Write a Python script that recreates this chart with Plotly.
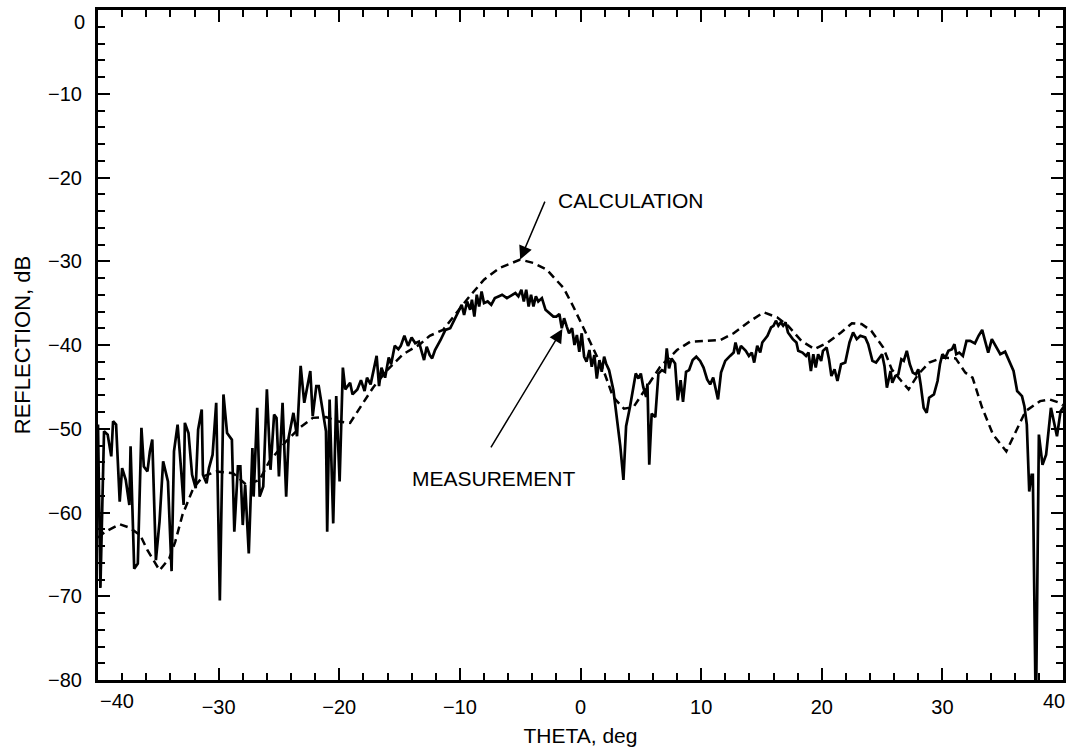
import plotly.graph_objects as go

# Calculation (dashed)
calc_theta = [-40.0, -39.4, -38.2, -37.4, -36.5, -35.9, -34.9, -34.1, -33.6, -33.0,
              -32.1, -31.3, -30.2, -28.8, -27.7, -26.6, -25.8, -24.4, -23.3, -22.2,
              -21.1, -20.2, -19.1, -18.3, -17.2, -16.1, -14.7, -13.3, -12.5, -11.4,
              -10.3, -9.2, -8.0, -6.7, -5.0, -3.9, -2.8, -1.4, -0.6, 0.2,
              1.1, 1.9, 2.7, 3.6, 4.4, 5.5, 6.6, 8.0, 9.1, 10.5,
              11.6, 12.7, 14.1, 15.2, 16.3, 17.2, 18.3, 19.4, 20.5, 21.6,
              22.5, 23.3, 24.1, 25.1, 25.8, 26.6, 27.2, 28.0, 28.9, 30.0,
              31.1, 31.9, 32.5, 33.3, 34.2, 35.3, 36.1, 36.9, 38.1, 38.9,
              39.7, 40.0]
calc_db = [-63.0, -62.3, -61.4, -61.8, -62.7, -64.5, -66.9, -65.5, -63.5, -60.3,
           -57.1, -55.7, -55.1, -55.3, -56.7, -56.1, -53.9, -51.5, -49.9, -48.7,
           -48.6, -49.1, -49.3, -47.5, -45.1, -43.1, -41.1, -39.9, -38.9, -38.2,
           -36.2, -34.2, -32.2, -30.8, -29.8, -30.2, -31.0, -33.2, -35.4, -37.8,
           -40.6, -43.0, -46.2, -47.6, -47.4, -45.0, -42.6, -40.6, -39.6, -39.5,
           -39.4, -38.6, -37.1, -36.1, -36.7, -37.7, -39.5, -40.5, -39.7, -38.5,
           -37.4, -37.5, -38.3, -40.3, -42.9, -44.3, -45.3, -43.5, -42.1, -41.5,
           -41.6, -43.3, -43.9, -47.5, -50.7, -52.7, -50.3, -47.9, -46.7, -46.5,
           -46.9, -47.2]

# Measurement (solid), left part
meas_theta_left = [-40.0, -39.8, -39.5, -39.2, -38.9, -38.75, -38.5, -38.2, -38.0, -37.7,
                   -37.4, -37.3, -37.0, -36.7, -36.4, -36.2, -35.9, -35.7, -35.5, -35.2,
                   -34.9, -34.6, -34.2, -33.9, -33.7, -33.4, -33.1, -32.9, -32.8, -32.5,
                   -32.2, -31.9, -31.7, -31.4, -31.3, -31.0, -30.8, -30.5, -30.2, -29.9,
                   -29.6, -29.3, -28.9, -28.7, -28.4, -28.2, -28.0, -27.8, -27.5, -27.2,
                   -27.1, -26.8, -26.6, -26.3, -26.0, -25.7, -25.4, -25.2, -25.0, -24.7,
                   -24.4, -24.2, -23.8, -23.5, -23.2, -22.9, -22.4, -22.2, -21.9, -21.7,
                   -21.1, -21.0, -20.8, -20.5, -20.25, -19.97, -19.7, -19.5, -19.1, -18.9,
                   -18.5, -18.2, -17.9, -17.7, -17.4, -16.9, -16.7, -16.5, -16.2, -15.9,
                   -15.7, -15.4, -15.1, -14.9, -14.6, -14.3, -14.0]
meas_db_left = [-49.5, -69.0, -50.3, -50.7, -53.3, -49.1, -49.5, -58.7, -54.7, -56.1,
                -59.1, -52.1, -66.7, -66.1, -49.9, -54.5, -55.1, -52.7, -51.3, -65.7,
                -61.1, -53.9, -56.3, -67.0, -52.7, -49.5, -55.1, -59.1, -49.3, -50.5,
                -55.5, -57.1, -50.1, -47.7, -55.5, -56.5, -54.7, -53.1, -46.9, -70.5,
                -45.9, -50.5, -51.3, -62.3, -54.5, -54.5, -61.5, -56.7, -64.9, -52.3,
                -58.1, -47.5, -58.1, -56.9, -45.3, -54.9, -48.3, -48.7, -55.7, -46.9,
                -58.1, -51.1, -48.1, -50.9, -42.5, -46.9, -43.1, -48.5, -44.9, -44.9,
                -50.3, -62.3, -46.5, -61.3, -46.1, -56.3, -42.7, -45.3, -44.5, -45.9,
                -45.3, -44.2, -45.5, -43.9, -44.7, -41.3, -44.9, -42.7, -43.9, -41.5,
                -42.3, -40.1, -40.5, -40.1, -38.9, -40.1, -39.1]

# Measurement, middle part
meas_theta_mid = [-13.7, -13.4, -13.2, -12.97, -12.75, -12.5, -12.3, -12.06, -11.6, -11.2,
                  -10.8, -10.4, -10.0, -9.85, -9.65, -9.4, -9.15, -9.0, -8.8, -8.6,
                  -8.4, -8.2, -8.0, -7.7, -7.4, -7.1, -6.8, -6.5, -6.1, -5.7,
                  -5.4, -5.15, -4.9, -4.7, -4.5, -4.3, -4.1, -3.9, -3.7, -3.5,
                  -3.2, -2.9, -2.6, -2.25, -2.0, -1.75, -1.55, -1.36, -1.14, -0.95,
                  -0.7, -0.5, -0.3, -0.1, 0.1, 0.3, 0.5, 0.74, 0.93, 1.15,
                  1.35, 1.57, 1.76, 1.96, 2.12, 2.37, 2.73, 3.0, 3.3, 3.56,
                  3.78, 4.1, 4.4, 4.58, 4.8, 5.0, 5.2, 5.44, 5.55, 5.7,
                  5.9, 6.2, 6.46, 6.74, 7.0, 7.15, 7.34, 7.55, 7.84, 8.06,
                  8.3, 8.5, 8.75, 9.0, 9.3, 9.6]
meas_db_mid = [-39.8, -39.6, -40.8, -41.8, -40.2, -41.2, -41.6, -40.6, -39.4, -38.2,
               -38.0, -36.8, -35.8, -35.2, -36.4, -34.8, -35.8, -34.6, -36.6, -34.0,
               -35.4, -33.6, -35.0, -34.8, -35.2, -34.4, -34.2, -34.0, -34.4, -34.0,
               -33.8, -34.2, -33.4, -34.8, -33.4, -35.4, -34.0, -35.4, -34.2, -34.8,
               -34.4, -35.8, -36.2, -36.6, -36.6, -36.3, -38.0, -36.8, -37.8, -38.6,
               -38.0, -40.0, -38.8, -40.8, -38.6, -41.4, -42.0, -40.6, -42.6, -41.2,
               -44.0, -41.8, -43.2, -41.4, -42.2, -43.0, -45.4, -48.6, -52.1, -56.1,
               -49.7, -47.4, -44.6, -43.4, -44.0, -43.4, -45.0, -46.2, -44.6, -54.3,
               -48.2, -48.6, -43.4, -43.0, -43.2, -40.4, -42.8, -41.6, -42.2, -46.6,
               -44.2, -46.8, -43.2, -43.0, -41.8, -41.4]

# Measurement, right part
meas_theta_right = [9.92, 10.2, 10.5, 10.75, 11.0, 11.4, 11.65, 12.0, 12.4, 12.7,
                    12.85, 13.1, 13.3, 13.7, 13.96, 14.2, 14.4, 14.65, 14.9, 15.07,
                    15.5, 15.8, 16.0, 16.2, 16.4, 16.6, 16.8, 17.0, 17.2, 17.6,
                    17.9, 18.05, 18.4, 18.7, 18.9, 19.1, 19.3, 19.5, 19.7, 19.95,
                    20.1, 20.4, 20.6, 20.8, 21.06, 21.3, 21.6, 21.95, 22.3, 22.6,
                    22.9, 23.2, 23.6, 23.85, 24.2, 24.5, 25.0, 25.2, 25.4, 25.7,
                    25.85, 26.1, 26.35, 26.6, 26.8, 27.05, 27.3, 27.55, 27.8, 28.0,
                    28.2, 28.45, 28.7, 28.9, 29.3, 29.6, 29.8, 30.0, 30.25, 30.5,
                    30.8, 31.0, 31.15, 31.4, 31.7, 32.0, 32.3, 32.7, 33.0, 33.3,
                    33.5, 33.8, 34.1, 34.4, 34.8, 35.2, 35.5, 35.9, 36.2, 36.6,
                    36.8, 37.0, 37.2, 37.4, 37.5, 37.75, 38.0, 38.3, 38.6, 39.0,
                    39.5, 39.8, 40.1]
meas_db_right = [-41.9, -42.7, -44.1, -44.7, -43.9, -46.5, -43.3, -41.9, -41.3, -40.9,
                 -39.7, -41.1, -40.1, -40.7, -41.3, -40.9, -42.1, -40.1, -40.9, -39.7,
                 -38.9, -37.9, -37.7, -37.1, -37.7, -37.3, -37.7, -37.3, -38.5, -39.3,
                 -39.7, -40.7, -40.9, -41.3, -40.9, -43.1, -41.1, -42.7, -41.1, -41.9,
                 -40.7, -40.3, -41.7, -43.7, -42.9, -44.3, -42.3, -42.1, -39.7, -38.5,
                 -39.3, -38.9, -39.1, -39.9, -41.9, -42.1, -41.1, -42.5, -45.1, -43.1,
                 -44.5, -43.7, -43.5, -41.7, -41.9, -40.7, -42.3, -43.3, -43.5, -42.9,
                 -44.7, -47.5, -48.1, -46.3, -45.9, -44.3, -42.3, -41.1, -41.5, -40.7,
                 -40.5, -39.9, -41.1, -40.9, -41.3, -39.5, -39.5, -39.8, -38.9, -38.2,
                 -39.3, -40.9, -39.3, -40.1, -41.1, -40.8, -41.7, -43.1, -45.5, -46.1,
                 -47.3, -49.5, -57.5, -55.5, -55.5, -85.0, -50.7, -54.3, -53.1, -47.5,
                 -50.9, -47.9, -47.3]

meas_theta = meas_theta_left + meas_theta_mid + meas_theta_right
meas_db = meas_db_left + meas_db_mid + meas_db_right

x_ticks = [-40, -30, -20, -10, 0, 10, 20, 30, 40]
x_ticktext = ["", "\u221230", "\u221220", "\u221210", "0", "10", "20", "30", ""]
y_ticks = [0, -10, -20, -30, -40, -50, -60, -70, -80]
y_ticktext = ["", "\u221210", "\u221220", "\u221230", "\u221240", "\u221250",
              "\u221260", "\u221270", "\u221280"]

font = "Liberation Sans, Arial, sans-serif"

fig = go.Figure()
fig.add_trace(go.Scatter(x=calc_theta, y=calc_db, mode="lines",
                         line=dict(color="black", width=2.5, dash="8px,5px"),
                         showlegend=False))
fig.add_trace(go.Scatter(x=meas_theta, y=meas_db, mode="lines",
                         line=dict(color="black", width=2.7),
                         showlegend=False))

axis_style = dict(
    showline=True, linewidth=3, linecolor="black", mirror="ticks",
    ticks="inside", ticklen=12, tickwidth=2, tickcolor="black",
    showgrid=False, zeroline=False, automargin=False,
    tickfont=dict(family=font, size=20, color="black"),
)

fig.update_xaxes(axis_style, range=[-40, 40], tickvals=x_ticks, ticktext=x_ticktext,
                 ticklabelstandoff=7,
                 minor=dict(dtick=2, ticks="inside", ticklen=7, tickwidth=2, tickcolor="black"),
                 title=dict(text="THETA, deg", font=dict(family=font, size=21, color="black"),
                            standoff=12))
fig.update_yaxes(axis_style, range=[-80, 0], tickvals=y_ticks, ticktext=y_ticktext,
                 ticklabelstandoff=9,
                 minor=dict(dtick=2, ticks="inside", ticklen=7, tickwidth=2, tickcolor="black"),
                 title=dict(text="REFLECTION, dB", font=dict(family=font, size=22, color="black"),
                            standoff=12))

# end tick labels pulled inside the frame
tick_font = dict(family=font, size=20, color="black")
fig.add_annotation(x=-40, y=0, xref="x", yref="paper", text="\u221240", showarrow=False,
                   xanchor="left", yanchor="top", yshift=-8, font=tick_font)
fig.add_annotation(x=40, y=0, xref="x", yref="paper", text="40", showarrow=False,
                   xanchor="right", yanchor="top", yshift=-8, xshift=4, font=tick_font)
fig.add_annotation(x=0, y=1, xref="paper", yref="paper", text="0", showarrow=False,
                   xanchor="right", yanchor="top", xshift=-11, yshift=1, font=tick_font)

# labels and arrows
fig.add_annotation(x=-2.0, y=-22.8, text="CALCULATION", showarrow=False, xanchor="left",
                   font=dict(family=font, size=21, color="black"))
fig.add_annotation(x=-14.1, y=-55.9, text="MEASUREMENT", showarrow=False, xanchor="left",
                   font=dict(family=font, size=21, color="black"))
fig.add_annotation(x=-5.0, y=-29.8, ax=-2.9, ay=-22.7, axref="x", ayref="y", text="",
                   showarrow=True, arrowhead=2, arrowsize=1.8, arrowwidth=1.5,
                   arrowcolor="black", standoff=0)
fig.add_annotation(x=-1.5, y=-38.1, ax=-7.5, ay=-52.4, axref="x", ayref="y", text="",
                   showarrow=True, arrowhead=2, arrowsize=1.8, arrowwidth=1.5,
                   arrowcolor="black", standoff=0)

fig.update_layout(
    width=1072, height=749,
    margin=dict(l=98, r=9, t=10, b=69, autoexpand=False),
    paper_bgcolor="white", plot_bgcolor="white",
    font=dict(family=font, size=20, color="black"),
)

fig.write_html("out.html", config={"displayModeBar": False},
               post_script="document.body.style.margin='0';")
